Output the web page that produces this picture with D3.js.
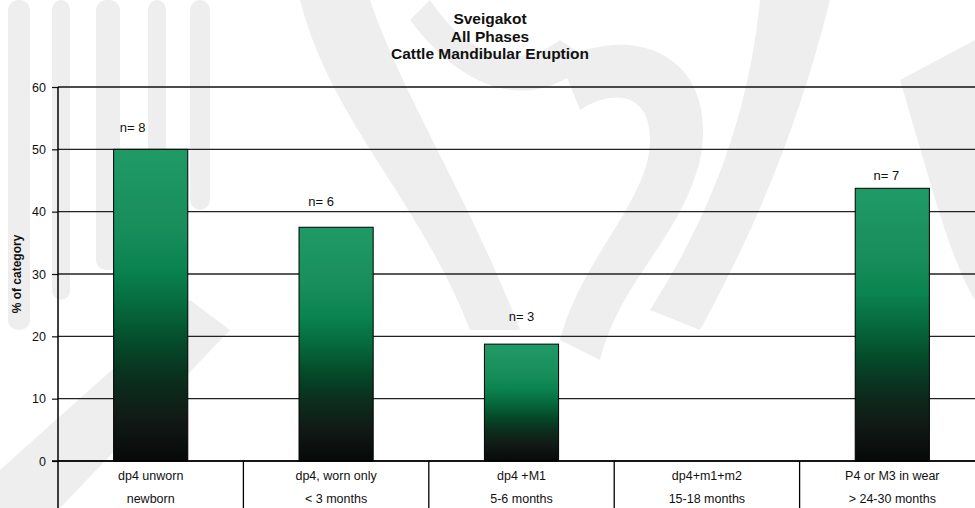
<!DOCTYPE html>
<html>
<head>
<meta charset="utf-8">
<script src="https://cdn.jsdelivr.net/npm/d3@7"></script>
<style>
  html, body { margin: 0; padding: 0; background: #ffffff; }
  svg { display: block; font-family: "Liberation Sans", Arial, sans-serif; }
</style>
</head>
<body>
<svg id="chart" width="975" height="508"></svg>
<script>
// Eruption stages (two-line category labels) and the share of each stage
const stageNames = ["dp4 unworn", "dp4, worn only", "dp4 +M1", "dp4+m1+m2", "P4 or M3 in wear"];
const stageAges = ["newborn", "< 3 months", "5-6 months", "15-18 months", "> 24-30 months"];
const percentOfCategory = [50, 37.5, 18.75, 0, 43.75];
const sampleCounts = [8, 6, 3, 0, 7];
const yTickValues = [0, 10, 20, 30, 40, 50, 60];

// Hand placement of the "n=" labels relative to each bar (dx, dy in px)
const labelNudge = [[-18, -22], [-15, -26], [0, -28], [0, 0], [-6, -13]];

const svg = d3.select("#chart");
const W = 975, H = 508;
const margin = { left: 58, top: 87, bottom: 461 };
const plotRight = 985;   // the category table runs slightly past the page edge

// Faint background emblem
const bg = svg.append("g").attr("fill", "#eeeeee");
[[8, 0, 22, 330], [52, 0, 18, 300], [96, 0, 24, 270], [148, 0, 18, 240], [190, 0, 20, 210]].forEach(r =>
  bg.append("rect").attr("x", r[0]).attr("y", r[1]).attr("width", r[2]).attr("height", r[3]).attr("rx", 10));
bg.append("path").attr("d", "M0,508 L0,470 L190,300 L230,330 L60,508 Z");
bg.append("path").attr("d", "M300,0 C330,120 420,200 470,330 L520,330 C470,200 400,90 370,0 Z");
bg.append("path").attr("d", "M560,60 C640,20 720,60 700,160 C680,240 620,280 600,360 L560,340 C580,260 650,200 650,140 C650,90 610,90 580,110 Z");
bg.append("path").attr("d", "M760,0 L830,0 C800,120 760,220 700,330 L650,310 C720,200 750,100 760,0 Z");
bg.append("path").attr("d", "M900,80 L975,40 L975,300 C950,260 930,180 900,80 Z");
bg.append("path").attr("d", "M430,0 C470,60 520,70 560,40 L590,60 C540,110 470,100 410,20 Z");

// Scales
const x = d3.scaleBand().domain(stageNames).range([margin.left, plotRight]).paddingInner(0).paddingOuter(0);
const y = d3.scaleLinear().domain([0, 60]).range([margin.bottom, margin.top]);

// Bar gradient: green at the top fading to near-black at the base
const defs = svg.append("defs");
const grad = defs.append("linearGradient").attr("id", "barFill")
  .attr("x1", 0).attr("y1", 0).attr("x2", 0).attr("y2", 1);
[[0, "#1f9a66"], [0.25, "#188e5b"], [0.38, "#0a8450"], [0.5, "#066a3d"], [0.62, "#044b2a"],
 [0.74, "#0b2e1d"], [0.86, "#111a16"], [1, "#070909"]].forEach(s =>
  grad.append("stop").attr("offset", s[0]).attr("stop-color", s[1]));

// Horizontal gridlines with ticks on the left
const yAxis = d3.axisLeft(y).tickValues(yTickValues).tickSize(6).tickPadding(6).tickFormat(d3.format("d"));
const gAxis = svg.append("g").attr("transform", `translate(${margin.left},0)`).call(yAxis);
gAxis.select(".domain").remove();
gAxis.selectAll(".tick line").attr("stroke", "#111").attr("stroke-width", 1.2);
gAxis.selectAll(".tick text").attr("font-size", 12.5).attr("fill", "#111")
  .attr("font-family", "'Liberation Sans', Arial, sans-serif");

svg.append("g").selectAll("line").data(yTickValues).join("line")
  .attr("x1", margin.left).attr("x2", W)
  .attr("y1", d => y(d)).attr("y2", d => y(d))
  .attr("stroke", d => d === 60 ? "#111" : "#222")
  .attr("stroke-width", d => d === 60 ? 1.6 : 1.3);

// Bars
const barW = x.bandwidth() * 0.4;
const barData = stageNames.map((s, i) => ({ s, v: percentOfCategory[i], n: sampleCounts[i], i }))
  .filter(d => d.v > 0);
svg.append("g").selectAll("rect").data(barData).join("rect")
  .attr("x", d => x(d.s) + x.bandwidth() / 2 - barW / 2)
  .attr("y", d => y(d.v))
  .attr("width", barW)
  .attr("height", d => y(0) - y(d.v))
  .attr("fill", "url(#barFill)")
  .attr("stroke", "#000").attr("stroke-width", 1);

// Sample size labels
svg.append("g").selectAll("text").data(barData).join("text")
  .attr("x", d => x(d.s) + x.bandwidth() / 2 + labelNudge[d.i][0])
  .attr("y", d => y(d.v) + labelNudge[d.i][1])
  .attr("dy", "0.35em")
  .attr("text-anchor", "middle")
  .attr("font-size", 13).attr("fill", "#111")
  .text(d => "n= " + d.n);

// Zero line, vertical axis line and the category table
svg.append("line").attr("x1", margin.left - 6).attr("x2", W)
  .attr("y1", y(0)).attr("y2", y(0)).attr("stroke", "#000").attr("stroke-width", 1.5);
svg.append("line").attr("x1", margin.left).attr("x2", margin.left)
  .attr("y1", margin.top).attr("y2", H).attr("stroke", "#000").attr("stroke-width", 1.5);
svg.append("g").selectAll("line").data(stageNames.slice(1)).join("line")
  .attr("x1", d => x(d)).attr("x2", d => x(d))
  .attr("y1", y(0)).attr("y2", H).attr("stroke", "#000").attr("stroke-width", 1.3);

const cat = svg.append("g").attr("font-size", 12.5).attr("fill", "#111").attr("text-anchor", "middle");
cat.selectAll("text.n").data(stageNames).join("text").attr("class", "n")
  .attr("x", d => x(d) + x.bandwidth() / 2).attr("y", 476).attr("dy", "0.35em").text(d => d);
cat.selectAll("text.a").data(stageAges).join("text").attr("class", "a")
  .attr("x", (d, i) => x(stageNames[i]) + x.bandwidth() / 2).attr("y", 499).attr("dy", "0.35em").text(d => d);

// Y axis title
svg.append("text")
  .attr("transform", `translate(17,${(margin.top + margin.bottom) / 2}) rotate(-90)`)
  .attr("text-anchor", "middle").attr("dy", "0.35em")
  .attr("font-size", 12).attr("font-weight", "bold").attr("fill", "#111")
  .text("% of category");

// Chart title
const title = svg.append("g").attr("text-anchor", "middle").attr("font-size", 15.5)
  .attr("font-weight", "bold").attr("fill", "#111");
["Sveigakot", "All Phases", "Cattle Mandibular Eruption"].forEach((t, i) =>
  title.append("text").attr("x", 490).attr("y", 19 + i * 17.5).attr("dy", "0.35em").text(t));
</script>
</body>
</html>
